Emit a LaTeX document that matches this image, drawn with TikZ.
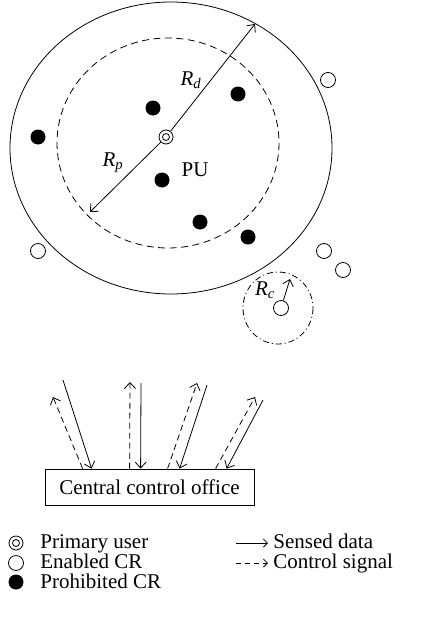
\documentclass[tikz,border=0pt]{standalone}
\usepackage{fontspec}
\setmainfont{Liberation Serif}
\usetikzlibrary{arrows.meta}
\begin{document}
\begin{tikzpicture}[x=1pt, y=-1pt, line width=0.8pt,
    font=\fontsize{21}{25}\selectfont,
    sense/.style={-{Straight Barb[length=6pt,width=11pt]}},
    ctrl/.style={sense, dash pattern=on 6pt off 4pt},
    prohibited/.style={circle, fill=black, inner sep=0pt, minimum size=15pt},
    enabled/.style={circle, draw, fill=white, inner sep=0pt, minimum size=15pt},
    primary/.style={circle, draw, inner sep=0pt, minimum size=14pt,
      path picture={\draw (path picture bounding box.center) circle (3.5pt);}},
    label/.style={inner sep=0pt}]
  \useasboundingbox (0,0) rectangle (430,621);
  % coverage areas
  \draw (171,148) ellipse [x radius=161, y radius=146];
  \draw[dash pattern=on 7pt off 4.5pt] (168,143) ellipse [x radius=111, y radius=105];
  \draw[dash pattern=on 6pt off 3pt on 1pt off 3pt] (278,308) ellipse [x radius=35, y radius=36];
  % primary user and radii
  \node[primary] (pu) at (166,137) {};
  \coordinate (dedge) at (255,24);
  \coordinate (pedge) at (90,212);
  \draw[sense] (pu) -- (dedge);
  \draw[sense] (pu) -- (pedge);
  \node[label] (rd) at (191,80) {\textit{R}\textsubscript{\textit{d}}};
  \node[label] (rp) at (113,163) {\textit{R}\textsubscript{\textit{p}}};
  \node[label] (pulabel) at (195,170) {PU};
  % prohibited CRs
  \node[prohibited] (p1) at (153,108) {};
  \node[prohibited] (p2) at (238,94) {};
  \node[prohibited] (p3) at (38,137) {};
  \node[prohibited] (p4) at (162,180) {};
  \node[prohibited] (p5) at (200,222) {};
  \node[prohibited] (p6) at (248,237) {};
  % enabled CRs
  \node[enabled] (e1) at (328,80) {};
  \node[enabled] (e2) at (38,251) {};
  \node[enabled] (e3) at (324,251) {};
  \node[enabled] (e4) at (343,270) {};
  \node[enabled] (e5) at (281,308) {};
  \coordinate (cedge) at (290,279);
  \draw[sense] (e5) -- (cedge);
  \node[label] (rc) at (265,290) {\textit{R}\textsubscript{\textit{c}}};
  % central control office
  \node[draw, minimum width=209pt, minimum height=36pt, inner sep=0pt] (office) at (149.5,487) {Central control office};
  \coordinate (c1) at (53,397);
  \coordinate (s1) at (63,380);
  \coordinate (c2) at (130,382);
  \coordinate (s2) at (141,383);
  \coordinate (c3) at (197,383);
  \coordinate (s3) at (207,385);
  \coordinate (c4) at (255,397);
  \coordinate (s4) at (263,400);
  \draw[ctrl] ([xshift=38pt]office.north west) -- (c1);
  \draw[sense] (s1) -- ([xshift=47pt]office.north west);
  \draw[ctrl] ([xshift=85pt]office.north west) -- (c2);
  \draw[sense] (s2) -- ([xshift=96pt]office.north west);
  \draw[ctrl] ([xshift=123pt]office.north west) -- (c3);
  \draw[sense] (s3) -- ([xshift=135pt]office.north west);
  \draw[ctrl] ([xshift=171pt]office.north west) -- (c4);
  \draw[sense] (s4) -- ([xshift=182pt]office.north west);
  % legend
  \node[primary] (lpu) at (16,543) {};
  \node[enabled] (len) at (16,563) {};
  \node[prohibited] (lpr) at (16,582) {};
  \node[label, anchor=base west] (lputext) at (40,548) {Primary user};
  \node[label, anchor=base west] (lentext) at (40,568) {Enabled CR};
  \node[label, anchor=base west] (lprtext) at (40,588) {Prohibited CR};
  \coordinate (la1) at (236,543);
  \coordinate (lb1) at (268,543);
  \coordinate (la2) at (236,563);
  \coordinate (lb2) at (268,563);
  \draw[-{Straight Barb[length=4pt,width=8pt]}] (la1) -- (lb1);
  \draw[-{Straight Barb[length=4pt,width=8pt]}, dash pattern=on 5pt off 4pt] (la2) -- (lb2);
  \node[label, anchor=base west] (lsense) at (273,548) {Sensed data};
  \node[label, anchor=base west] (lctrl) at (273,568) {Control signal};
\end{tikzpicture}
\end{document}
